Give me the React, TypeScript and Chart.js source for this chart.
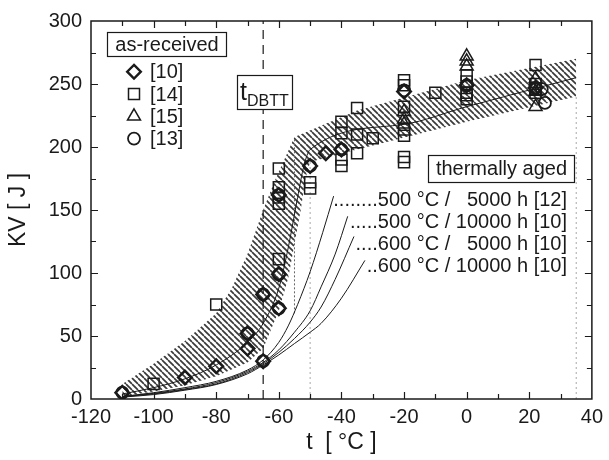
import React, { useEffect, useRef } from "react";
import { Chart, registerables } from "chart.js";

Chart.register(...registerables);

// ---------- data ----------
// as-received [10] (diamonds)
const d10X = [-110, -90, -80, -70, -70, -65, -65, -60, -60, -60, -50, -45, -40, -20, 0, 22];
const d10Y = [5, 17, 26, 52, 40, 83, 30, 99, 72, 162, 185, 195, 198, 244, 249, 247];
// as-received [14] (squares)
const s14X = [-100, -80, -60, -60, -60, -60, -60, -50, -50, -40, -40, -40, -40, -35, -35, -35, -30, -20, -20, -20, -20, -20, -20, -20, -10, 0, 0, 0, 0, 0, 22, 22, 22, 22];
const s14Y = [12, 75, 111, 155, 160, 168, 183, 167, 172, 220, 211, 190, 185, 231, 210, 195, 207, 253, 249, 232, 214, 209, 192, 188, 243, 257, 252, 243, 241, 238, 265, 250, 246, 243];
// as-received [15] (triangles)
const t15X = [-20, -20, -20, 0, 0, 0, 22, 22, 22];
const t15Y = [228, 222, 218, 272, 268, 264, 254, 244, 232];
// as-received [13] (circles)
const c13X = [-110, -70, -65, -65, -60, -60, -60, -50, -40, -20, 0, 22, 24, 25];
const c13Y = [5, 52, 83, 30, 99, 72, 162, 185, 198, 245, 249, 247, 246, 235];

// scatter band (hatched)
const bandLowX = [-110, -100, -90, -80, -70, -65, -60, -57, -55, -53, -51.5, -50, -35, 0, 35];
const bandLowY = [2, 6, 11, 18, 29, 40, 70, 96, 123, 150, 175, 188, 198, 220, 240];
const bandUpX = [-110, -100, -90, -80, -75, -70, -65, -61.5, -55, -35, 0, 35];
const bandUpY = [12, 28, 46, 68, 88, 115, 150, 172, 208, 229, 253, 270];

// mean curve of as-received
const meanX = [-110, -100, -90, -80, -70, -65, -60, -57, -54, -52, -50, -20, 0, 35];
const meanY = [4, 9, 16, 27, 45, 60, 88, 120, 160, 185, 198, 218, 232, 255];

// thermally aged curves
const a1X = [-110, -100, -90, -80, -70, -65, -60, -57, -54, -50, -46, -42.5];
const a1Y = [2, 5, 9, 14, 23, 31, 45, 58, 75, 101, 132, 161];
const a2X = [-110, -100, -90, -80, -70, -65, -60, -55, -50, -46.5, -42, -38];
const a2Y = [2, 4.5, 8, 13, 22, 29, 39, 53, 70, 89, 115, 145];
const a3X = [-110, -100, -90, -80, -70, -65, -60, -55, -50, -46.5, -42, -36];
const a3Y = [2, 4, 7.5, 12, 21, 28, 37, 48, 61, 73, 95, 129];
const a4X = [-110, -100, -90, -80, -70, -65, -60, -55, -50, -46.5, -40, -32.5];
const a4Y = [1.5, 3.5, 7, 11.5, 20, 27, 35, 44, 53, 60, 80, 110];

// reference lines
const tDbtt = -65;
const grayLineX = [-50, 35];
const grayLineTop = [190, 240];
const innerDotX = -55;
const innerDotY = [68, 208];

// texts
const legendTitle = "as-received";
const legendLabels = ["[10]", "[14]", "[15]", "[13]"];
const legendStyles = ["rectRot", "rect", "triangle", "circle"];
const agedTitle = "thermally aged";
const agedLabels = [
  "........500 °C /   5000 h [12]",
  ".....500 °C / 10000 h [10]",
  "....600 °C /   5000 h [10]",
  "..600 °C / 10000 h [10]",
];

const FONT = "'Liberation Sans', Arial, Helvetica, sans-serif";
const INK = "#1a1a1a";

const pts = (xs: number[], ys: number[]) => xs.map((x, i) => ({ x, y: ys[i] }));

function makeHatch(): any {
  const s = 6;
  const c = document.createElement("canvas");
  c.width = s;
  c.height = s;
  const g = c.getContext("2d")!;
  g.strokeStyle = "#3a3a3a";
  g.lineWidth = 1.7;
  for (const k of [-1, 0, 1]) {
    g.beginPath();
    g.moveTo(k * s, 0);
    g.lineTo(k * s + s, s);
    g.stroke();
  }
  return g.createPattern(c, "repeat");
}

function drawShape(ctx: CanvasRenderingContext2D, style: string, x: number, y: number) {
  ctx.beginPath();
  if (style === "rectRot") {
    const r = 6.8;
    ctx.moveTo(x, y - r);
    ctx.lineTo(x + r, y);
    ctx.lineTo(x, y + r);
    ctx.lineTo(x - r, y);
    ctx.closePath();
    ctx.lineWidth = 2.4;
  } else if (style === "rect") {
    const h = 5.5;
    ctx.rect(x - h, y - h, 2 * h, 2 * h);
    ctx.lineWidth = 1.5;
  } else if (style === "triangle") {
    const r = 7.5;
    ctx.moveTo(x, y - r);
    ctx.lineTo(x + r * 0.866, y + r * 0.5);
    ctx.lineTo(x - r * 0.866, y + r * 0.5);
    ctx.closePath();
    ctx.lineWidth = 1.5;
  } else {
    ctx.arc(x, y, 6, 0, Math.PI * 2);
    ctx.lineWidth = 1.8;
  }
  ctx.stroke();
}

const decor = {
  id: "decor",
  afterDatasetsDraw(chart: any) {
    const { ctx, chartArea: a, scales } = chart;
    const xs = scales.x;
    const ys = scales.y;
    ctx.save();
    ctx.strokeStyle = INK;
    ctx.fillStyle = INK;

    // inward ticks
    ctx.lineWidth = 1.2;
    ctx.beginPath();
    for (let v = xs.min + 10; v < xs.max; v += 10) {
      const p = Math.round(xs.getPixelForValue(v)) + 0.5;
      const len = v % 20 === 0 ? 7 : 5;
      ctx.moveTo(p, a.bottom);
      ctx.lineTo(p, a.bottom - len);
      ctx.moveTo(p, a.top);
      ctx.lineTo(p, a.top + len);
    }
    for (let v = ys.min + 25; v < ys.max; v += 25) {
      const p = Math.round(ys.getPixelForValue(v)) + 0.5;
      const len = v % 50 === 0 ? 7 : 5;
      ctx.moveTo(a.left, p);
      ctx.lineTo(a.left + len, p);
      ctx.moveTo(a.right, p);
      ctx.lineTo(a.right - len, p);
    }
    ctx.stroke();

    // frame
    ctx.lineWidth = 1.5;
    ctx.strokeRect(a.left, a.top, a.right - a.left, a.bottom - a.top);

    // legend box "as-received"
    ctx.lineWidth = 1.2;
    ctx.fillStyle = "#fff";
    ctx.fillRect(107.5, 32.5, 119, 24);
    ctx.strokeRect(107.5, 32.5, 119, 24);
    ctx.fillStyle = INK;
    ctx.font = `20px ${FONT}`;
    ctx.textBaseline = "middle";
    ctx.textAlign = "center";
    ctx.fillText(legendTitle, 167, 45);

    ctx.textAlign = "left";
    legendLabels.forEach((lab, i) => {
      const y = 71.7 + i * 22.3;
      drawShape(ctx, legendStyles[i], 134, y);
      ctx.fillText(lab, 150, y + 1);
    });

    // t_DBTT box
    ctx.lineWidth = 1.2;
    ctx.fillStyle = "#fff";
    ctx.fillRect(237.5, 75.5, 55, 34);
    ctx.strokeRect(237.5, 75.5, 55, 34);
    ctx.fillStyle = INK;
    ctx.textBaseline = "alphabetic";
    ctx.font = `25px ${FONT}`;
    ctx.fillText("t", 240, 100);
    ctx.font = `16px ${FONT}`;
    ctx.fillText("DBTT", 247, 105.5);

    // thermally aged box
    ctx.fillStyle = "#fff";
    ctx.fillRect(428.5, 155.5, 146, 27);
    ctx.strokeRect(428.5, 155.5, 146, 27);
    ctx.fillStyle = INK;
    ctx.font = `20px ${FONT}`;
    ctx.textBaseline = "middle";
    ctx.textAlign = "center";
    ctx.fillText(agedTitle, 501.5, 169);

    ctx.textAlign = "right";
    agedLabels.forEach((lab, i) => {
      ctx.fillText(lab, 567, 200 + i * 22);
    });
    ctx.restore();
  },
};

export default function App() {
  const ref = useRef<HTMLCanvasElement | null>(null);

  useEffect(() => {
    const canvas = ref.current;
    if (!canvas) return;
    const hatch = makeHatch();
    const tickFont = { family: FONT, size: 20 };
    const titleFont = { family: FONT, size: 23 };
    const markerBase = {
      showLine: false,
      borderColor: INK,
      backgroundColor: "rgba(0,0,0,0)",
      order: 0,
    };
    const curve = (data: any[], extra: any = {}) => ({
      data,
      showLine: true,
      pointRadius: 0,
      borderColor: INK,
      borderWidth: 1,
      fill: false,
      cubicInterpolationMode: "monotone",
      order: 1,
      ...extra,
    });

    const chart = new Chart(canvas, {
      type: "scatter",
      data: {
        datasets: [
          { ...markerBase, data: pts(d10X, d10Y), pointStyle: "rectRot", pointRadius: 6.8, pointBorderWidth: 2.4 },
          { ...markerBase, data: pts(s14X, s14Y), pointStyle: "rect", pointRadius: 7.8, pointBorderWidth: 1.5 },
          { ...markerBase, data: pts(t15X, t15Y), pointStyle: "triangle", pointRadius: 7.5, pointBorderWidth: 1.5 },
          { ...markerBase, data: pts(c13X, c13Y), pointStyle: "circle", pointRadius: 6, pointBorderWidth: 1.8 },
          curve(pts(meanX, meanY)),
          curve(pts(a1X, a1Y)),
          curve(pts(a2X, a2Y)),
          curve(pts(a3X, a3Y)),
          curve(pts(a4X, a4Y)),
          curve([{ x: tDbtt, y: 0 }, { x: tDbtt, y: 300 }], { borderDash: [9, 6], borderWidth: 1.2, cubicInterpolationMode: "default", tension: 0 }),
          curve([{ x: grayLineX[0], y: 0 }, { x: grayLineX[0], y: grayLineTop[0] }], { borderDash: [2, 3], borderColor: "#a8a8a8", cubicInterpolationMode: "default", tension: 0 }),
          curve([{ x: grayLineX[1], y: 0 }, { x: grayLineX[1], y: grayLineTop[1] }], { borderDash: [2, 3], borderColor: "#a8a8a8", cubicInterpolationMode: "default", tension: 0 }),
          curve([{ x: innerDotX, y: innerDotY[0] }, { x: innerDotX, y: innerDotY[1] }], { borderDash: [2, 2], borderColor: "#666", cubicInterpolationMode: "default", tension: 0 }),
          {
            data: pts(bandLowX, bandLowY),
            showLine: true,
            pointRadius: 0,
            borderColor: "rgba(0,0,0,0)",
            borderWidth: 1,
            tension: 0,
            fill: false,
            order: 2,
          },
          {
            data: pts(bandUpX, bandUpY),
            showLine: true,
            pointRadius: 0,
            borderColor: "rgba(0,0,0,0)",
            borderWidth: 1,
            tension: 0,
            fill: "-1",
            backgroundColor: hatch,
            order: 2,
          },
        ] as any,
      },
      options: {
        responsive: false,
        animation: false,
        devicePixelRatio: 1,
        events: [],
        layout: { padding: { left: 0, right: 14, top: 19, bottom: 0 } },
        plugins: { legend: { display: false }, tooltip: { enabled: false } },
        scales: {
          x: {
            type: "linear",
            min: -120,
            max: 40,
            afterFit: (s: any) => {
              s.height = 61;
            },
            ticks: { stepSize: 20, font: tickFont, color: INK, padding: 6, maxRotation: 0, autoSkip: false },
            grid: { display: false, drawTicks: false },
            border: { display: false },
            title: { display: true, text: "t  [ °C ]", font: titleFont, color: INK, padding: { top: 0, bottom: 4 } },
          },
          y: {
            type: "linear",
            min: 0,
            max: 300,
            afterFit: (s: any) => {
              s.width = 91;
            },
            ticks: { stepSize: 50, font: tickFont, color: INK, padding: 9 },
            grid: { display: false, drawTicks: false },
            border: { display: false },
            title: { display: true, text: "KV [ J ]", font: titleFont, color: INK, padding: { top: 5, bottom: 0 } },
          },
        },
      } as any,
      plugins: [decor],
    });
    return () => chart.destroy();
  }, []);

  return (
    <div style={{ position: "fixed", left: 0, top: 0, width: 609, height: 460, background: "#fff" }}>
      <canvas ref={ref} width={609} height={460} style={{ display: "block", width: 609, height: 460 }} />
    </div>
  );
}
